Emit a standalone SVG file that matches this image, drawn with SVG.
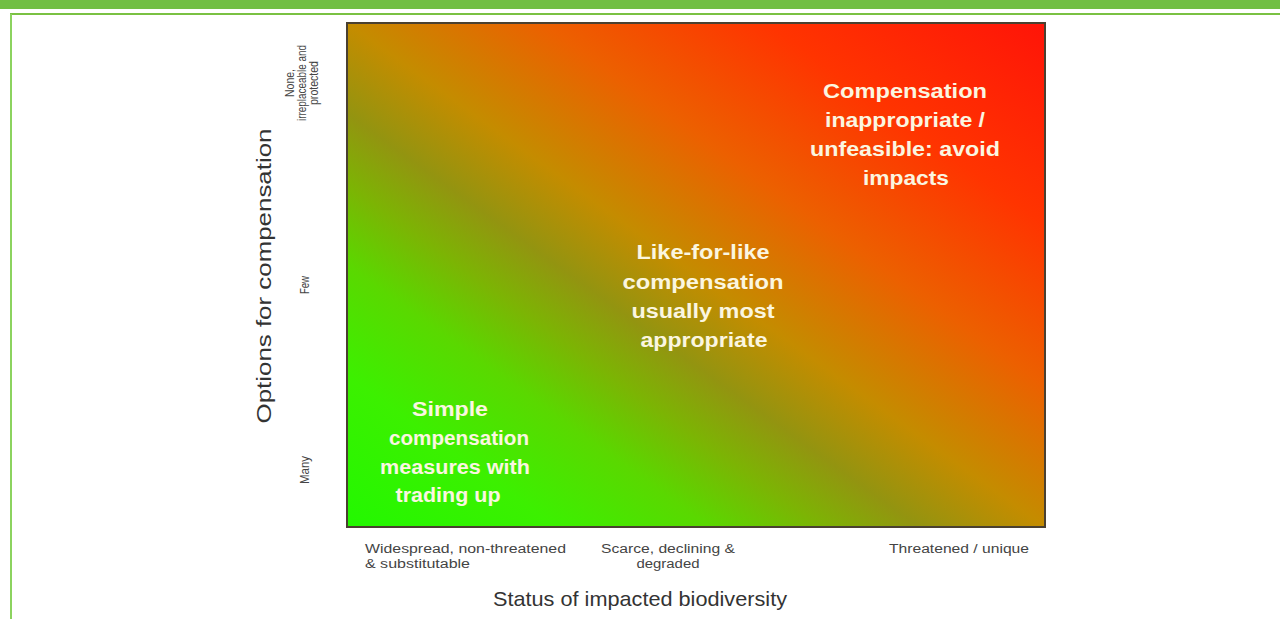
<svg xmlns="http://www.w3.org/2000/svg" width="1280" height="619" viewBox="0 0 1280 619">
<defs>
<linearGradient id="heat" x1="0" y1="1" x2="1" y2="0">
<stop offset="0" stop-color="#22f800"/>
<stop offset="0.15" stop-color="#3cf000"/>
<stop offset="0.26" stop-color="#5ad800"/>
<stop offset="0.34" stop-color="#7cb404"/>
<stop offset="0.41" stop-color="#939410"/>
<stop offset="0.5" stop-color="#c48c00"/>
<stop offset="0.64" stop-color="#ec6000"/>
<stop offset="0.8" stop-color="#ff3400"/>
<stop offset="1" stop-color="#ff1408"/>
</linearGradient>
<style>
.region{font-family:"Liberation Sans",Arial,sans-serif;font-weight:bold;font-size:20px;fill:#fbf6e0;text-anchor:middle}
.axis{font-family:"Liberation Sans",Arial,sans-serif;font-size:21px;fill:#333}
.tick{font-family:"Liberation Sans",Arial,sans-serif;font-size:12px;fill:#444}
</style>
</defs>
<rect x="0" y="0" width="1280" height="619" fill="#ffffff"/>
<g id="frame">
<rect x="0" y="0" width="1280" height="9" fill="#71bf44"/>
<line x1="10" y1="14" x2="1280" y2="14" stroke="#7ac143" stroke-width="2"/>
<line x1="11" y1="14" x2="11" y2="619" stroke="#8cd35f" stroke-width="2"/>
</g>
<g id="plot">
<rect x="347" y="23" width="698" height="504" fill="url(#heat)" stroke="#4a4030" stroke-width="2"/>
</g>
<g id="region-avoid">
<text class="region" x="905" y="98" textLength="164" lengthAdjust="spacingAndGlyphs">Compensation</text>
<text class="region" x="905" y="127" textLength="160" lengthAdjust="spacingAndGlyphs">inappropriate /</text>
<text class="region" x="905" y="156" textLength="190" lengthAdjust="spacingAndGlyphs">unfeasible: avoid</text>
<text class="region" x="906" y="185" textLength="86" lengthAdjust="spacingAndGlyphs">impacts</text>
</g>
<g id="region-like">
<text class="region" x="703" y="259" textLength="133" lengthAdjust="spacingAndGlyphs">Like-for-like</text>
<text class="region" x="703" y="289" textLength="161" lengthAdjust="spacingAndGlyphs">compensation</text>
<text class="region" x="703" y="318" textLength="143" lengthAdjust="spacingAndGlyphs">usually most</text>
<text class="region" x="704" y="347" textLength="127" lengthAdjust="spacingAndGlyphs">appropriate</text>
</g>
<g id="region-simple">
<text class="region" x="450" y="416" textLength="76" lengthAdjust="spacingAndGlyphs">Simple</text>
<text class="region" x="459" y="445" textLength="140" lengthAdjust="spacingAndGlyphs">compensation</text>
<text class="region" x="455" y="474" textLength="150" lengthAdjust="spacingAndGlyphs">measures with</text>
<text class="region" x="448" y="502" textLength="105" lengthAdjust="spacingAndGlyphs">trading up</text>
</g>
<g id="x-axis">
<text class="tick" x="365" y="553" textLength="201" lengthAdjust="spacingAndGlyphs">Widespread, non-threatened</text>
<text class="tick" x="365" y="568" textLength="105" lengthAdjust="spacingAndGlyphs">&amp; substitutable</text>
<text class="tick" x="668" y="553" text-anchor="middle" textLength="134" lengthAdjust="spacingAndGlyphs">Scarce, declining &amp;</text>
<text class="tick" x="668" y="568" text-anchor="middle" textLength="63" lengthAdjust="spacingAndGlyphs">degraded</text>
<text class="tick" x="889" y="553" textLength="140" lengthAdjust="spacingAndGlyphs">Threatened / unique</text>
<text class="axis" x="640" y="606" text-anchor="middle" textLength="294" lengthAdjust="spacingAndGlyphs">Status of impacted biodiversity</text>
</g>
<g id="y-axis">
<text class="axis" transform="translate(271,276) rotate(-90)" text-anchor="middle" textLength="295" lengthAdjust="spacingAndGlyphs">Options for compensation</text>
<text class="tick" transform="translate(294,83) rotate(-90)" text-anchor="middle" textLength="28" lengthAdjust="spacingAndGlyphs">None,</text>
<text class="tick" transform="translate(306,83) rotate(-90)" text-anchor="middle" textLength="76" lengthAdjust="spacingAndGlyphs">irreplaceable and</text>
<text class="tick" transform="translate(318,83) rotate(-90)" text-anchor="middle" textLength="44" lengthAdjust="spacingAndGlyphs">protected</text>
<text class="tick" transform="translate(309,285) rotate(-90)" text-anchor="middle" textLength="18" lengthAdjust="spacingAndGlyphs">Few</text>
<text class="tick" transform="translate(309,470) rotate(-90)" text-anchor="middle" textLength="28" lengthAdjust="spacingAndGlyphs">Many</text>
</g>
</svg>
